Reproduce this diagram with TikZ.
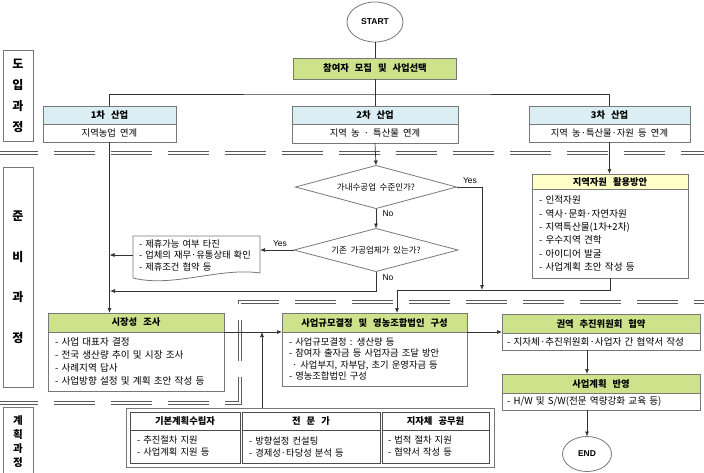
\documentclass[tikz,border=0pt]{standalone}
\usepackage{fontspec}
\setmainfont{Noto Sans CJK KR}
\newfontfamily\latinfont{Liberation Sans}
\usepackage{xcolor}
\usepackage{tikz}
\definecolor{stepgreen}{RGB}{206, 226, 140}
\definecolor{inducyan}{RGB}{219, 238, 243}
\definecolor{resyellow}{RGB}{255, 255, 200}
\definecolor{boxgray}{RGB}{120, 120, 120}
\definecolor{sepgray}{RGB}{90, 90, 90}
\usetikzlibrary{shapes.geometric, arrows.meta, calc}
\newcommand{\hdrfont}{\fontsize{9.3}{11}\selectfont\bfseries\spaceskip=6pt plus 1pt minus 1pt\relax}
\newcommand{\bodyfont}[1][13]{\fontsize{9.6}{#1}\selectfont\spaceskip=7.5pt plus 1pt minus 1pt\relax}
\newcommand{\tightfont}[1][11.5]{\fontsize{9.3}{#1}\selectfont\spaceskip=4.2pt plus 1pt minus .5pt\relax}
\newcommand{\askfont}{\fontsize{8.5}{10}\selectfont\spaceskip=3.6pt plus 1pt minus .5pt\relax}

\begin{document}
\begin{tikzpicture}[x=1pt, y=-1pt,
    hdr/.style={rectangle, draw=boxgray, line width=0.8pt, inner sep=1pt, outer sep=0pt, font=\hdrfont},
    bodybox/.style={rectangle, draw=boxgray, line width=0.8pt, fill=white, inner ysep=1pt, outer sep=0pt, align=left, font=\bodyfont},
    phasebox/.style={rectangle, draw=boxgray, line width=0.8pt, minimum width=30pt, align=center, font=\fontsize{12}{21}\selectfont\bfseries},
    terminal/.style={ellipse, draw=boxgray, line width=0.8pt, inner sep=0pt, outer sep=0pt, font=\latinfont\fontsize{8.5}{10}\selectfont\bfseries},
    decision/.style={diamond, draw=boxgray, line width=0.8pt, aspect=3.7, inner sep=1pt, outer sep=0pt, font=\askfont},
    answer/.style={inner sep=0pt, font=\latinfont\fontsize{8.5}{10}\selectfont},
    link/.style={draw=black!80, line width=0.7pt},
    arr/.style={link, -{Latex[length=5pt, width=4pt]}},
    divider/.style={draw=sepgray, line width=1.4pt, double=white, double distance=1.5pt, dash pattern=on 41pt off 16pt}
]
    \useasboundingbox (0,0) rectangle (704,472);

    % Phases
    \node[phasebox, minimum height=91pt] (ph1) at (18,95.5) {도\\입\\과\\정};
    \node[phasebox, minimum height=220pt, font=\fontsize{12}{40.5}\selectfont\bfseries] (ph2) at (18,277) {준\\비\\과\\정};
    \node[phasebox, minimum height=69pt, font=\fontsize{10.5}{14}\selectfont\bfseries, anchor=north] (ph3) at (18,407) {계\\획\\과\\정};

    % Dividers
    \draw[divider] (-3,153) -- (707,153);
    \draw[divider] (-3,403) -- (240,403) -- (240,302) -- (707,302);

    % Introduction
    \node[terminal, minimum width=56pt, minimum height=40pt] (start) at (375,22) {START};
    \node[hdr, fill=stepgreen, minimum width=163pt, minimum height=21pt] (sel) at (375,68.5) {참여자 모집 및 사업선택};

    \node[hdr, fill=inducyan, minimum width=133pt, minimum height=18pt, anchor=north] (ind1) at (109.5,106) {1차 산업};
    \node[bodybox, align=center, minimum width=133pt, minimum height=18pt, font=\tightfont, anchor=north] (ind1b) at (ind1.south) {지역농업 연계};
    \node[hdr, fill=inducyan, minimum width=166pt, minimum height=18pt, anchor=north] (ind2) at (375,106) {2차 산업};
    \node[bodybox, align=center, minimum width=166pt, minimum height=19pt, font=\tightfont, anchor=north] (ind2b) at (ind2.south) {지역 농 · 특산물 연계};
    \node[hdr, fill=inducyan, minimum width=161pt, minimum height=18pt, anchor=north] (ind3) at (609.5,106) {3차 산업};
    \node[bodybox, align=center, minimum width=161pt, minimum height=18pt, font=\tightfont, anchor=north] (ind3b) at (ind3.south) {지역 농·특산물·자원 등 연계};

    % Preparation
    \node[decision, minimum width=161pt, minimum height=43pt] (q1) at (376,187) {가내수공업 수준인가?};
    \node[decision, minimum width=164pt, minimum height=43pt] (q2) at (376,250) {기존 가공업체가 있는가?};
    \node[answer] (yes1) at (470,181) {Yes};
    \node[answer] (no1) at (388,214) {No};
    \node[answer] (yes2) at (280,244) {Yes};
    \node[answer] (no2) at (388,278) {No};

    \node[bodybox, draw=none, fill=none, text width=115pt, inner xsep=6pt, minimum height=38pt, font=\tightfont] (note) at (196.5,255) {- 제휴가능 여부 타진\\- 업체의 재무·유통상태 확인\\- 제휴조건 협약 등};
    \draw[boxgray, line width=0.8pt] ([yshift=-4pt]note.south west) -- (note.north west) -- (note.north east) -- ([yshift=1pt]note.south east)
        .. controls ([xshift=-40pt, yshift=7pt]note.south east) and ([xshift=40pt, yshift=-14pt]note.south west) .. ([yshift=-4pt]note.south west);

    \node[hdr, fill=resyellow, minimum width=156pt, minimum height=15pt, anchor=north] (res) at (610,174) {지역자원 활용방안};
    \node[bodybox, text width=142pt, inner xsep=7pt, minimum height=89pt, font={\bodyfont[13.4]}, anchor=north] (resb) at (res.south) {- 인적자원\\- 역사·문화·자연자원\\- 지역특산물(1차+2차)\\- 우수지역 견학\\- 아이디어 발굴\\- 사업계획 초안 작성 등};

    \node[hdr, fill=stepgreen, minimum width=176pt, minimum height=19pt, anchor=north] (market) at (136,313) {시장성 조사};
    \node[bodybox, text width=162pt, inner xsep=7pt, minimum height=59pt, anchor=north] (marketb) at (market.south) {- 사업 대표자 결정\\- 전국 생산량 추이 및 시장 조사\\- 사례지역 답사\\- 사업방향 설정 및 계획 초안 작성 등};

    \node[hdr, fill=stepgreen, minimum width=185pt, minimum height=19pt, anchor=north] (scale) at (374.5,313) {사업규모결정 및 영농조합법인 구성};
    \node[bodybox, text width=171pt, inner xsep=7pt, minimum height=54pt, font=\tightfont, anchor=north] (scaleb) at (scale.south) {- 사업규모결정 : 생산량 등\\- 참여자 출자금 등 사업자금 조달 방안\\\ · 사업부지, 자부담, 초기 운영자금 등\\- 영농조합법인 구성};

    \node[hdr, fill=stepgreen, minimum width=198pt, minimum height=19pt, anchor=north] (reg) at (601,314) {권역 추진위원회 협약};
    \node[bodybox, text width=188pt, inner xsep=5pt, minimum height=17pt, anchor=north] (regb) at (reg.south) {- 지자체·추진위원회·사업자 간 협약서 작성};

    \node[hdr, fill=stepgreen, minimum width=198pt, minimum height=19pt, anchor=north] (plan) at (601,374) {사업계획 반영};
    \node[bodybox, text width=188pt, inner xsep=5pt, minimum height=17pt, anchor=north] (planb) at (plan.south) {- H/W 및 S/W(전문 역량강화 교육 등)};

    \node[terminal, minimum width=49pt, minimum height=35pt] (endn) at (587,454) {END};

    % Planning support
    \node[rectangle, draw=boxgray, line width=0.8pt, minimum width=368pt, minimum height=59pt] (grp) at (310,437.5) {};
    \node[hdr, draw=black!70, minimum width=110pt, minimum height=18pt, anchor=north] (sup1) at (185,412) {기본계획수립자};
    \node[bodybox, draw=black!70, text width=96pt, inner xsep=7pt, minimum height=33pt, font={\tightfont[12]}, anchor=north] (sup1b) at (sup1.south) {- 추진절차 지원\\- 사업계획 지원 등};
    \node[hdr, draw=black!70, minimum width=138pt, minimum height=18pt, anchor=north] (sup2) at (311,412) {전 문 가};
    \node[bodybox, draw=black!70, text width=124pt, inner xsep=7pt, minimum height=33pt, font={\tightfont[12]}, anchor=north] (sup2b) at (sup2.south) {- 방향설정 컨설팅\\- 경제성·타당성 분석 등};
    \node[hdr, draw=black!70, minimum width=107pt, minimum height=18pt, anchor=north] (sup3) at (435.5,412) {지자체 공무원};
    \node[bodybox, draw=black!70, text width=95pt, inner xsep=6pt, minimum height=33pt, font={\tightfont[12]}, anchor=north] (sup3b) at (sup3.south) {- 법적 절차 지원\\- 협약서 작성 등};

    % Connectors
    \coordinate (split) at (375,94);
    \coordinate (yesend) at (482,290);
    \coordinate (nojoin) at (110,291);
    \coordinate (mrg) at (397,290);
    \coordinate (upjn) at (262,332);

    \draw[link] (start.south) -- (sel.north);
    \draw[link] (sel.south) -- (ind2.north);
    \draw[link] (ind1.north) |- (split) -| (ind3.north);
    \draw[arr] (ind1b.south) -- (ind1b.south |- market.north);
    \draw[arr] (ind2b.south) -- (q1.north);
    \draw[arr] (ind3b.south) -- (ind3b.south |- res.north);
    \draw[arr] (q1.south) -- (q2.north);
    \draw[arr] (q1.east) -| (yesend);
    \draw[arr] (q2.west) -- (q2.west -| note.east);
    \draw[arr] (note.west) -- (note.west -| ind1b.south);
    \draw[arr] (q2.south) |- (nojoin);
    \draw[arr] (resb.south) |- (mrg) -- (mrg |- scale.north);
    \draw[arr] (market.south east) -- (market.south east -| scale.west);
    \draw[arr] (upjn |- grp.north) -- (upjn);
    \draw[arr] (scale.south east) -- (scale.south east -| reg.west);
    \draw[arr] (regb.south -| endn) -- (plan.north -| endn);
    \draw[arr] (planb.south -| endn) -- (endn.north);
\end{tikzpicture}
\end{document}
